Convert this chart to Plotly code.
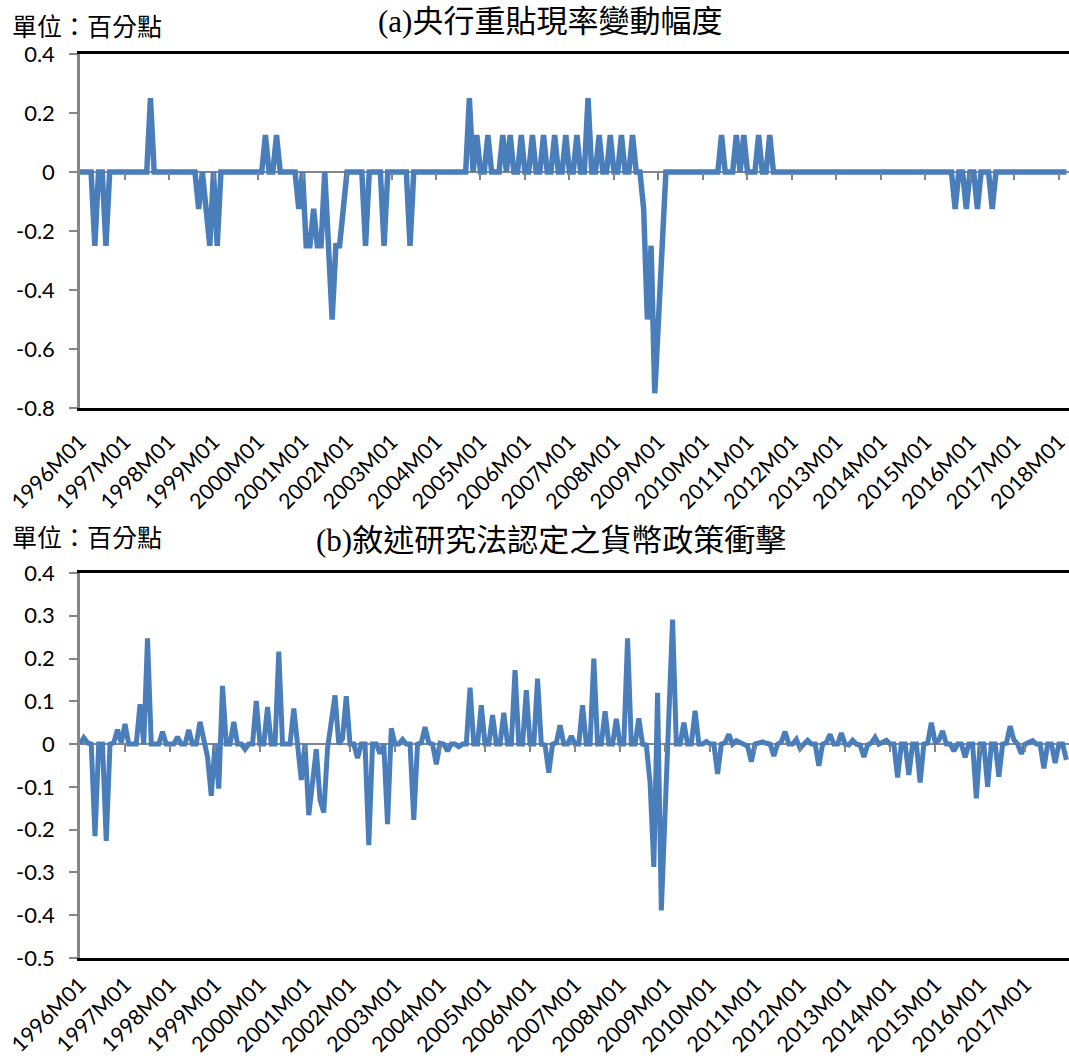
import plotly.graph_objects as go

# ---------------------------------------------------------------------------
# Data (percentage points)
# ---------------------------------------------------------------------------

# (a) Monthly change in the central bank discount rate, 1996M01-2018M03
rate_change = [
    0, 0, 0, 0, -0.25, 0, 0, -0.25, 0, 0, 0, 0,                     # 1996
    0, 0, 0, 0, 0, 0, 0, 0.25, 0, 0, 0, 0,                          # 1997
    0, 0, 0, 0, 0, 0, 0, 0, -0.125, 0, -0.125, -0.25,               # 1998
    0, -0.25, 0, 0, 0, 0, 0, 0, 0, 0, 0, 0,                         # 1999
    0, 0, 0.125, 0, 0, 0.125, 0, 0, 0, 0, 0, -0.125,                # 2000
    0, -0.25, -0.25, -0.125, -0.25, -0.25, 0, -0.25, -0.5, -0.25, -0.25, -0.125,  # 2001
    0, 0, 0, 0, 0, -0.25, 0, 0, 0, 0, -0.25, 0,                     # 2002
    0, 0, 0, 0, 0, -0.25, 0, 0, 0, 0, 0, 0,                         # 2003
    0, 0, 0, 0, 0, 0, 0, 0, 0, 0.25, 0, 0.125,                      # 2004
    0, 0, 0.125, 0, 0, 0, 0.125, 0, 0.125, 0, 0, 0.125,             # 2005
    0, 0, 0.125, 0, 0, 0.125, 0, 0, 0.125, 0, 0, 0.125,             # 2006
    0, 0, 0.125, 0, 0, 0.25, 0, 0, 0.125, 0, 0, 0.125,              # 2007
    0, 0, 0.125, 0, 0, 0.125, 0, 0, -0.125, -0.5, -0.25, -0.75,     # 2008
    -0.5, -0.25, 0, 0, 0, 0, 0, 0, 0, 0, 0, 0,                      # 2009
    0, 0, 0, 0, 0, 0.125, 0, 0, 0, 0.125, 0, 0.125,                 # 2010
    0, 0, 0, 0.125, 0, 0, 0.125, 0, 0, 0, 0, 0,                     # 2011
    0, 0, 0, 0, 0, 0, 0, 0, 0, 0, 0, 0,                             # 2012
    0, 0, 0, 0, 0, 0, 0, 0, 0, 0, 0, 0,                             # 2013
    0, 0, 0, 0, 0, 0, 0, 0, 0, 0, 0, 0,                             # 2014
    0, 0, 0, 0, 0, 0, 0, 0, -0.125, 0, 0, -0.125,                   # 2015
    0, 0, -0.125, 0, 0, 0, -0.125, 0, 0, 0, 0, 0,                   # 2016
    0, 0, 0, 0, 0, 0, 0, 0, 0, 0, 0, 0,                             # 2017
    0, 0, 0,                                                        # 2018
]

# (b) Narrative-approach monetary policy shocks, 1996M01-2017M12
narrative_shock = [
    0, 0.015, 0.003, 0, -0.215, 0, 0, -0.226, 0, 0.003, 0.034, 0.003,          # 1996
    0.047, 0, 0, 0, 0.093, 0, 0.247, 0, 0, 0, 0.029, 0,                         # 1997
    0, 0, 0.017, 0, 0, 0.033, 0, 0, 0.052, 0.005, -0.03, -0.121,                # 1998
    0, -0.104, 0.136, 0, 0, 0.052, 0, 0, -0.012, 0, 0, 0.101,                   # 1999
    0, 0, 0.087, 0, 0, 0.216, 0, 0, 0, 0.083, 0, -0.084,                        # 2000
    0, -0.166, -0.09, -0.012, -0.131, -0.16, -0.01, 0.055, 0.114, 0, 0.013, 0.112,  # 2001
    0, 0, -0.033, 0, 0, -0.236, 0, 0, -0.022, 0, -0.187, 0.037,                 # 2002
    0, 0, 0.011, 0, 0, -0.177, 0, 0.003, 0.04, 0.003, 0, -0.047,                # 2003
    0.002, 0, -0.016, 0, 0, -0.006, 0, 0, 0.132, 0, 0, 0.091,                   # 2004
    0, 0, 0.068, 0, 0, 0.073, 0, 0, 0.173, 0, 0, 0.126,                         # 2005
    0, 0, 0.153, 0, -0.002, -0.067, 0, 0.003, 0.044, 0, 0, 0.019,               # 2006
    0, 0, 0.091, 0, 0, 0.2, 0, 0, 0.077, 0, 0, 0.059,                           # 2007
    0, 0, 0.247, 0, 0, 0.06, 0, -0.002, -0.09, -0.287, 0.12, -0.389,            # 2008
    -0.16, 0.06, 0.291, 0, 0, 0.05, 0, 0, 0.078, 0, 0, 0.006,                   # 2009
    0, 0, -0.07, 0, 0.003, 0.023, 0, 0.008, 0.005, 0, -0.005, -0.041,           # 2010
    0, 0.003, 0.005, 0.002, 0, -0.028, 0, 0.005, 0.029, 0, 0, 0.011,            # 2011
    -0.01, 0, 0.009, 0, 0, -0.051, 0, 0.004, 0.023, 0, 0, 0.026,                # 2012
    0, -0.002, 0.009, 0, -0.002, -0.03, -0.002, 0.003, 0.016, 0, 0.004, 0.009,  # 2013
    0, 0, -0.078, 0, 0, -0.072, 0, 0, -0.09, 0, 0.002, 0.05,                    # 2014
    0.005, 0.009, 0.031, 0, 0, -0.016, 0, 0, -0.031, 0, 0, -0.127,              # 2015
    0, 0, -0.1, 0, 0, -0.076, 0, 0.002, 0.042, 0.01, 0, -0.023,                 # 2016
    0, 0.005, 0.008, 0, 0, -0.057, 0, 0, -0.044, 0, 0, -0.037,                  # 2017
]

# Category labels shown under each panel (every January)
tick_labels_a = [
    "1996M01", "1997M01", "1998M01", "1999M01", "2000M01", "2001M01",
    "2002M01", "2003M01", "2004M01", "2005M01", "2006M01", "2007M01",
    "2008M01", "2009M01", "2010M01", "2011M01", "2012M01", "2013M01",
    "2014M01", "2015M01", "2016M01", "2017M01", "2018M01",
]
tick_labels_b = tick_labels_a[:-1]

y_ticks_a = [0.4, 0.2, 0, -0.2, -0.4, -0.6, -0.8]
y_text_a = ["0.4", "0.2", "0", "-0.2", "-0.4", "-0.6", "-0.8"]
y_ticks_b = [0.4, 0.3, 0.2, 0.1, 0, -0.1, -0.2, -0.3, -0.4, -0.5]
y_text_b = ["0.4", "0.3", "0.2", "0.1", "0", "-0.1", "-0.2", "-0.3", "-0.4", "-0.5"]

unit_text = "單位：百分點"
title_a = "(a)央行重貼現率變動幅度"
title_b = "(b)敘述研究法認定之貨幣政策衝擊"


def month_names(start_year, count):
    names = []
    for k in range(count):
        names.append(f"{start_year + k // 12}M{k % 12 + 1:02d}")
    return names


months_a = month_names(1996, len(rate_change))
months_b = month_names(1996, len(narrative_shock))

# ---------------------------------------------------------------------------
# Page geometry
# ---------------------------------------------------------------------------
W, H = 1069, 1059
ML, MR, MT, MB = 80, 0, 54, 101
PLOT_W = W - ML - MR
PLOT_H = H - MT - MB


def fx(px):
    return (px - ML) / PLOT_W


def fy(py):
    return (H - MB - py) / PLOT_H


dom_a = [fy(408), fy(54)]
dom_b = [fy(958), fy(573)]
yr_a = [-0.8, 0.4]
yr_b = [-0.5, 0.4]
xr_a = [0, 266.7]
xr_b = [0, 263.7]


def zero_pos(dom, yr):
    return dom[0] + (0 - yr[0]) / (yr[1] - yr[0]) * (dom[1] - dom[0])


BLUE = "#4A7EBB"
GRAY = "#868686"
NUM_FONT = dict(family="Lato, Carlito, sans-serif", size=22, color="black")
XLAB_FONT = dict(family="Lato, Carlito, sans-serif", size=21.5, color="black")
CJK_FONT = "Liberation Serif, Noto Sans CJK TC, serif"

fig = go.Figure()

fig.add_trace(go.Scatter(
    x=months_a, y=rate_change, xaxis="x", yaxis="y", mode="lines",
    line=dict(color=BLUE, width=5.5), showlegend=False, hoverinfo="x+y",
))
fig.add_trace(go.Scatter(
    x=months_b, y=narrative_shock, xaxis="x2", yaxis="y2", mode="lines",
    line=dict(color=BLUE, width=5), showlegend=False, hoverinfo="x+y",
))

# Carriers for the tick-mark axes that sit on the zero lines
tick_idx_a = [months_a.index(t) for t in tick_labels_a[1:]]
tick_idx_b = [months_b.index(t) for t in tick_labels_b[1:]]
fig.add_trace(go.Scatter(x=[tick_idx_a[0]], y=[0], xaxis="x3", yaxis="y",
                         mode="markers", marker=dict(opacity=0),
                         hoverinfo="skip", showlegend=False))
fig.add_trace(go.Scatter(x=[tick_idx_b[0]], y=[0], xaxis="x4", yaxis="y2",
                         mode="markers", marker=dict(opacity=0),
                         hoverinfo="skip", showlegend=False))


def cat_xaxis(anchor, rng, labels, standoff):
    return dict(
        domain=[0, 1], anchor=anchor, type="category", range=rng,
        tickmode="array", tickvals=labels, ticktext=labels,
        tickangle=-45, tickfont=XLAB_FONT, ticks="", ticklabelstandoff=standoff,
        showline=True, linecolor="black", linewidth=2.5, mirror=True,
        showgrid=False, zeroline=False, automargin=False,
    )


def zero_tick_axis(base, anchor_pos, rng, vals):
    return dict(
        overlaying=base, anchor="free", position=anchor_pos, type="linear",
        range=rng, tickmode="array", tickvals=vals, ticks="outside",
        ticklen=7, tickwidth=2, tickcolor=GRAY, showticklabels=False,
        showline=False, showgrid=False, zeroline=False,
    )


def value_yaxis(anchor, dom, rng, vals, text):
    return dict(
        domain=dom, anchor=anchor, range=rng, tickmode="array",
        tickvals=vals, ticktext=text, tickfont=NUM_FONT,
        ticks="outside", ticklen=8, tickwidth=2, tickcolor=GRAY,
        ticklabelstandoff=10,
        showline=True, linecolor=GRAY, linewidth=2.5,
        zeroline=True, zerolinecolor=GRAY, zerolinewidth=2,
        showgrid=False, automargin=False,
    )


fig.update_layout(
    width=W, height=H,
    margin=dict(l=ML, r=MR, t=MT, b=MB, pad=0),
    paper_bgcolor="white", plot_bgcolor="white",
    showlegend=False,
    xaxis=cat_xaxis("y", xr_a, tick_labels_a, 10),
    xaxis2=cat_xaxis("y2", xr_b, tick_labels_b, 3),
    xaxis3=zero_tick_axis("x", zero_pos(dom_a, yr_a), xr_a, tick_idx_a),
    xaxis4=zero_tick_axis("x2", zero_pos(dom_b, yr_b), xr_b, tick_idx_b),
    yaxis=value_yaxis("x", dom_a, yr_a, y_ticks_a, y_text_a),
    yaxis2=value_yaxis("x2", dom_b, yr_b, y_ticks_b, y_text_b),
    annotations=[
        dict(text=unit_text, xref="paper", yref="paper", x=fx(10), y=fy(28),
             xanchor="left", yanchor="middle", showarrow=False,
             font=dict(family=CJK_FONT, size=25, color="black")),
        dict(text=title_a, xref="paper", yref="paper", x=fx(550), y=fy(22),
             xanchor="center", yanchor="middle", showarrow=False,
             font=dict(family=CJK_FONT, size=31, color="black")),
        dict(text=unit_text, xref="paper", yref="paper", x=fx(10), y=fy(538),
             xanchor="left", yanchor="middle", showarrow=False,
             font=dict(family=CJK_FONT, size=25, color="black")),
        dict(text=title_b, xref="paper", yref="paper", x=fx(551), y=fy(540),
             xanchor="center", yanchor="middle", showarrow=False,
             font=dict(family=CJK_FONT, size=31, color="black")),
    ],
)

fig.write_html("out.html")
